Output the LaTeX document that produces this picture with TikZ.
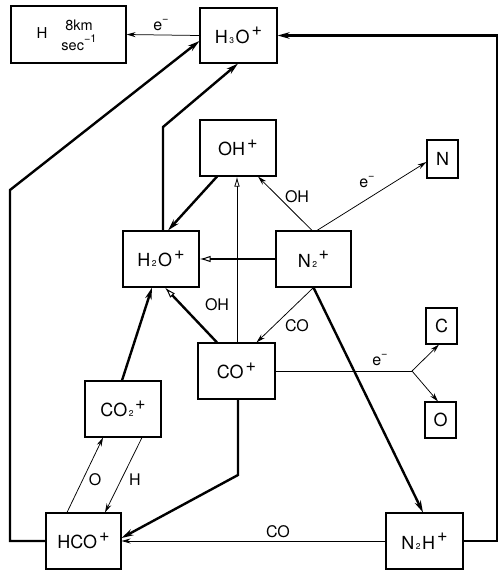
\documentclass[tikz,border=0pt]{standalone}
\usepackage{fontspec}
\setmainfont{TeX Gyre Heros}
\usetikzlibrary{arrows.meta,calc}
\newcommand\MySup[1]{\hspace{2pt}\raisebox{7.5pt}{\fontsize{18}{18}\selectfont #1}}
\newcommand\MySub[1]{\hspace{1.5pt}{\fontsize{8.5}{9}\selectfont #1}\hspace{1.5pt}}
\newcommand\LabSup[1]{\raisebox{0.55em}{\fontsize{11}{11}\selectfont #1}}
\begin{document}
\begin{tikzpicture}[x=1pt,y=-1pt,
  box/.style={draw, line width=1.1pt, inner sep=0pt, font=\fontsize{18}{21}\selectfont},
  lab/.style={font=\fontsize{16}{19}\selectfont, inner sep=1pt},
  thinar/.style={line width=0.75pt, -{Stealth[length=9pt,width=5pt]}},
  thickar/.style={line width=2.4pt, -{Stealth[length=12pt,width=6.5pt]}},
  hollowar/.style={line width=2.4pt, -{Latex[open,length=11pt,width=6.5pt,line width=1pt]}},
  hollowthin/.style={line width=0.75pt, -{Latex[open,length=10pt,width=5.5pt,line width=0.8pt]}},
]
\useasboundingbox (0,0) rectangle (501,571);

% boxes
\node[box, minimum width=115pt, minimum height=57pt] (hbox) at (68.5,34.5) {};
\node[font=\fontsize{15}{17}\selectfont, inner sep=0pt] (htext) at (42,33) {H};
\node[font=\fontsize{14.5}{20}\selectfont, align=center, inner sep=0pt] (speed) at (79,35) {8km\\sec\LabSup{−1}};
\node[box, minimum width=77pt, minimum height=55pt] (h3o) at (238.5,35.5) {H\MySub{3}O\MySup{+}};
\node[box, minimum width=76pt, minimum height=56pt] (oh) at (238,148) {OH\MySup{+}};
\node[box, minimum width=31pt, minimum height=38pt] (n) at (442.5,159) {N};
\node[box, minimum width=76pt, minimum height=56pt] (h2o) at (161,259) {H\MySub{2}O\MySup{+}};
\node[box, minimum width=75pt, minimum height=56pt] (n2) at (313.5,259) {N\MySub{2}\hspace{-2pt}\MySup{+}};
\node[box, minimum width=77pt, minimum height=56pt] (co) at (236.5,371) {CO\MySup{+}};
\node[box, minimum width=76pt, minimum height=56pt] (co2) at (123,409) {CO\MySub{2}\hspace{-2pt}\MySup{+}};
\node[box, minimum width=31pt, minimum height=36pt] (c) at (441.5,326) {C};
\node[box, minimum width=31pt, minimum height=36pt] (o) at (440.5,420) {O};
\node[box, minimum width=75pt, minimum height=56pt] (hco) at (83.5,541) {HCO\MySup{+}};
\node[box, minimum width=77pt, minimum height=56pt] (n2h) at (424.5,541) {N\MySub{2}H\MySup{+}};

% helper coordinates
\coordinate (rr) at (497,300);
\coordinate (ll) at (10,190);
\coordinate (hk) at (163,127);
\coordinate (br) at (412,371);
\coordinate (ck) at (238,475);

% connectors
\draw[thinar] (h3o.west) -- (hbox.east);
\draw[thickar] (n2h.east) -| (rr) |- (h3o.east);
\draw[thickar] (hco.west) -| (ll) -- ([yshift=-5.5pt]h3o.west);
\draw[thickar] ([xshift=2pt]h2o.north) -- (hk) -- ([xshift=-0.5pt]h3o.south);
\draw[thickar] ([xshift=-21pt]oh.south) -- ([xshift=7pt]h2o.north);
\draw[thinar] ([xshift=-1.5pt]n2.north) -- ([xshift=20pt]oh.south);
\draw[thinar] ([xshift=3.5pt]n2.north) -- ([yshift=-3pt]n.west);
\draw[hollowthin] ([xshift=0.5pt]co.north) -- ([xshift=-1pt]oh.south);
\draw[hollowar] (n2.west) -- (h2o.east);
\draw[thinar] (n2.south) -- ([xshift=20pt]co.north);
\draw[thickar] (n2.south) -- ([xshift=-1.5pt]n2h.north);
\draw[hollowar] ([xshift=-19.5pt]co.north) -- ([xshift=4pt]h2o.south);
\draw[thickar] ([xshift=-1pt]co2.north) -- ([xshift=-9pt]h2o.south);
\draw[line width=0.75pt] (co.east) -- (br);
\draw[thinar] (br) -- ([xshift=-2.5pt]c.south);
\draw[thinar] (br) -- ([xshift=-2.5pt]o.north);
\draw[thickar] ([xshift=1.5pt]co.south) -- (ck) -- ([yshift=3pt]hco.east);
\draw[thinar] ([xshift=-16.5pt]hco.north) -- ([xshift=-20pt]co2.south);
\draw[thinar] ([xshift=19pt]co2.south) -- ([xshift=21.5pt]hco.north);
\draw[thinar] (n2h.west) -- (hco.east);

% labels
\node[lab] (l1) at (161,25) {e\LabSup{−}};
\node[lab] (l2) at (297,197) {OH};
\node[lab] (l3) at (367,182) {e\LabSup{−}};
\node[lab] (l4) at (217,305) {OH};
\node[lab] (l5) at (297,326) {CO};
\node[lab] (l6) at (380,360) {e\LabSup{−}};
\node[lab] (l7) at (95,480) {O};
\node[lab] (l8) at (135,480) {H};
\node[lab] (l9) at (278,532) {CO};
\end{tikzpicture}
\end{document}
